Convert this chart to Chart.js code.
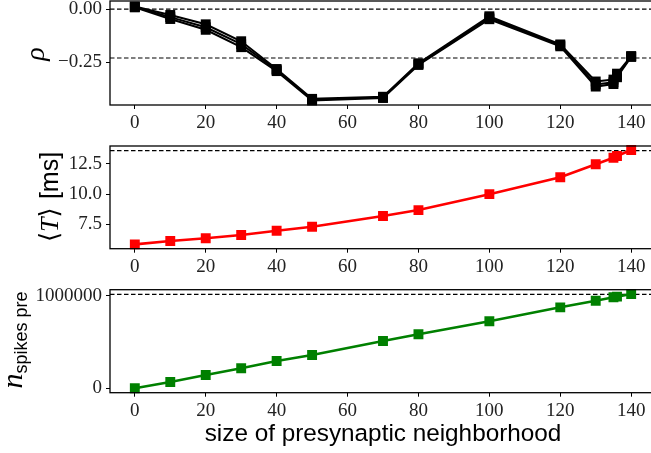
<!DOCTYPE html>
<html>
<head>
<meta charset="utf-8">
<script src="https://cdn.jsdelivr.net/npm/chart.js@4"></script>
<style>
  html, body { margin: 0; padding: 0; background: #fff; overflow: hidden; width: 651px; height: 453px; }
  #wrap { position: relative; width: 700px; height: 453px; }
  canvas { position: absolute; left: 0; max-width: none !important; }
</style>
</head>
<body>
<div id="wrap">
<canvas id="rhoChart" width="656" height="140" style="top:0;width:656px;height:140px"></canvas>
<canvas id="tChart" width="656" height="140" style="top:140px;width:656px;height:140px"></canvas>
<canvas id="nChart" width="656" height="173" style="top:280px;width:656px;height:173px"></canvas>
</div>
<script>
// neighborhood sizes (x)
const sizes = [0, 10, 20, 30, 40, 50, 70, 80, 100, 120, 130, 135, 136, 140];
const xTicks = [0, 20, 40, 60, 80, 100, 120, 140];

// rho, several overlapping runs
const rhoA = [0.012, -0.028, -0.072, -0.152, -0.283, -0.424, -0.414, -0.256, -0.034, -0.167, -0.342, -0.333, -0.305, -0.222];
const rhoB = [0.010, -0.038, -0.086, -0.166, -0.288, -0.428, -0.417, -0.260, -0.040, -0.171, -0.356, -0.346, -0.314, -0.224];
const rhoC = [0.008, -0.047, -0.098, -0.180, -0.293, -0.432, -0.420, -0.264, -0.048, -0.176, -0.366, -0.354, -0.322, -0.226];
const rhoTicks = [0, -0.25];
const rhoRefs = [0, -0.231];

// mean period <T> in ms
const meanT = [5.84, 6.12, 6.34, 6.61, 6.97, 7.30, 8.19, 8.68, 10.0, 11.40, 12.48, 13.02, 13.16, 13.66];
const tTicks = [7.5, 10.0, 12.5];
const tRefs = [13.6];

// number of presynaptic spikes
const nSpikes = [0, 68000, 144000, 217000, 296000, 361000, 512000, 585000, 726000, 877000, 949000, 986000, 993000, 1022000];
const nTicks = [0, 1000000];
const nRefs = [1018000];

const serif = '"Liberation Serif", "DejaVu Serif", serif';
const sans = '"Liberation Sans", "DejaVu Sans", sans-serif';

function drawRotated(ctx, cx, cy, parts) {
  ctx.save();
  ctx.translate(cx, cy);
  ctx.rotate(-Math.PI / 2);
  ctx.fillStyle = '#000';
  ctx.textBaseline = 'alphabetic';
  ctx.textAlign = 'left';
  let total = 0;
  parts.forEach(p => { ctx.font = p.font; p.w = ctx.measureText(p.text).width; total += p.w; });
  let x = -total / 2;
  parts.forEach(p => { ctx.font = p.font; ctx.fillText(p.text, x, p.dy || 0); x += p.w; });
  ctx.restore();
}

const framePlugin = {
  id: 'frame',
  beforeDatasetsDraw(chart, args, opts) {
    const ctx = chart.ctx, a = chart.chartArea, y = chart.scales.y;
    ctx.save();
    ctx.setLineDash([4.5, 2.5]);
    ctx.lineWidth = 1.2;
    ctx.strokeStyle = '#000';
    opts.refs.forEach(v => {
      const py = y.getPixelForValue(v);
      ctx.beginPath(); ctx.moveTo(a.left, py); ctx.lineTo(a.right, py); ctx.stroke();
    });
    ctx.restore();
  },
  afterDraw(chart, args, opts) {
    const ctx = chart.ctx, a = chart.chartArea;
    ctx.save();
    ctx.lineWidth = 1.3;
    ctx.strokeStyle = '#000';
    ctx.strokeRect(a.left, a.top, a.right - a.left, a.bottom - a.top);
    ctx.restore();
    if (opts.title) opts.title(ctx);
  }
};

function series(ys, color, width) {
  return {
    data: sizes.map((x, i) => ({ x: x, y: ys[i] })),
    borderColor: color,
    backgroundColor: color,
    borderWidth: width,
    pointStyle: 'rect',
    pointRadius: 7,
    pointHoverRadius: 7,
    pointBorderWidth: 0,
    clip: 10
  };
}

function makeChart(id, datasets, yMin, yMax, yTicks, yFmt, refs, padTop, xHeight, title) {
  return new Chart(document.getElementById(id), {
    type: 'line',
    data: { datasets: datasets },
    options: {
      responsive: false,
      animation: false,
      layout: { autoPadding: false, padding: { top: padTop, left: 0, right: 0, bottom: 0 } },
      plugins: {
        legend: { display: false },
        tooltip: { enabled: false },
        frame: { refs: refs, title: title }
      },
      scales: {
        x: {
          type: 'linear',
          min: -7, max: 147,
          afterBuildTicks: s => { s.ticks = xTicks.map(v => ({ value: v })); },
          afterFit: s => { s.height = xHeight; s.paddingLeft = 0; s.paddingRight = 0; },
          grid: { drawOnChartArea: false, drawTicks: true, tickLength: 4, tickColor: '#000', tickWidth: 1 },
          border: { display: false },
          ticks: { color: '#222', font: { family: serif, size: 19 }, padding: 3, maxRotation: 0 }
        },
        y: {
          min: yMin, max: yMax,
          afterBuildTicks: s => { s.ticks = yTicks.map(v => ({ value: v })); },
          afterFit: s => { s.width = 110; s.paddingTop = 0; s.paddingBottom = 0; },
          grid: { drawOnChartArea: false, drawTicks: true, tickLength: 4, tickColor: '#000', tickWidth: 1 },
          border: { display: false },
          ticks: { color: '#222', font: { family: serif, size: 19 }, padding: 4, callback: yFmt }
        }
      }
    },
    plugins: [framePlugin]
  });
}

makeChart('rhoChart',
  [series(rhoA, '#000', 2), series(rhoB, '#000', 2), series(rhoC, '#000', 2)],
  -0.453, 0.038, rhoTicks,
  v => (v < 0 ? '\u2212' : '') + Math.abs(v).toFixed(2),
  rhoRefs, 1, 35,
  ctx => drawRotated(ctx, 36, 54, [{ text: '\u03C1', font: 'italic 28px ' + serif, dy: 8 }]));

makeChart('tChart',
  [series(meanT, '#ff0000', 2.6)],
  5.48, 13.99, tTicks,
  v => v.toFixed(1),
  tRefs, 6, 31.3,
  ctx => drawRotated(ctx, 49, 57, [
    { text: '\u27E8', font: '26px "DejaVu Serif", serif', dy: 9 },
    { text: 'T', font: 'italic 26px ' + serif, dy: 9 },
    { text: '\u27E9 ', font: '26px "DejaVu Serif", serif', dy: 9 },
    { text: '[ms]', font: '25px ' + sans, dy: 9 }
  ]));

makeChart('nChart',
  [series(nSpikes, '#008000', 2.6)],
  -47700, 1068000, nTicks,
  v => String(v),
  nRefs, 9.7, 60.3,
  ctx => {
    drawRotated(ctx, 20, 60, [
      { text: 'n', font: 'italic 30px ' + serif, dy: 2 },
      { text: 'spikes pre', font: '18px ' + sans, dy: 7 }
    ]);
    ctx.save();
    ctx.fillStyle = '#000';
    ctx.font = '24.3px ' + sans;
    ctx.textAlign = 'center';
    ctx.textBaseline = 'alphabetic';
    ctx.fillText('size of presynaptic neighborhood', 383, 161);
    ctx.restore();
  });
</script>
</body>
</html>
